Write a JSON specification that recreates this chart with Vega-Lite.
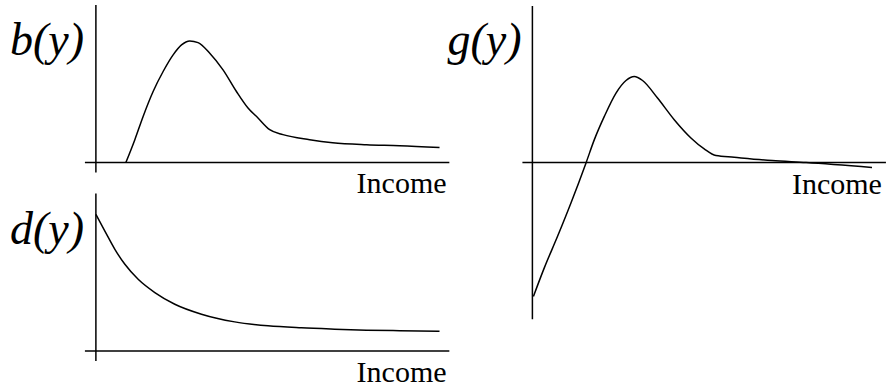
{
  "$schema": "https://vega.github.io/schema/vega-lite/v6.json",
  "padding": 0,
  "autosize": {"type": "fit", "contains": "padding"},
  "width": 887,
  "height": 388,
  "background": "white",
  "config": {"view": {"stroke": null}},
  "datasets": {
    "b": [
      {"income": 8.57, "value": 0},
      {"income": 11.14, "value": 18.85},
      {"income": 13.51, "value": 37.95},
      {"income": 16.37, "value": 58.44},
      {"income": 19.23, "value": 74.84},
      {"income": 22.09, "value": 88.52},
      {"income": 24.49, "value": 96.72},
      {"income": 26.86, "value": 100},
      {"income": 29.23, "value": 98.61},
      {"income": 32.57, "value": 89.92},
      {"income": 36.37, "value": 76.23},
      {"income": 40.2, "value": 58.44},
      {"income": 43.51, "value": 44.84},
      {"income": 46.37, "value": 36.64},
      {"income": 49.71, "value": 27.05},
      {"income": 53.51, "value": 22.95},
      {"income": 61.14, "value": 18.85},
      {"income": 67.71, "value": 16.39},
      {"income": 77.43, "value": 14.75},
      {"income": 86.86, "value": 13.93},
      {"income": 98.29, "value": 12.3}
    ],
    "d": [
      {"income": 0, "value": 112.3},
      {"income": 2.57, "value": 98.61},
      {"income": 5.43, "value": 83.61},
      {"income": 8.29, "value": 71.31},
      {"income": 12.09, "value": 59.02},
      {"income": 16.86, "value": 48.11},
      {"income": 22.57, "value": 38.52},
      {"income": 30.2, "value": 30.33},
      {"income": 39.71, "value": 24.02},
      {"income": 49.23, "value": 20.74},
      {"income": 58.77, "value": 19.1},
      {"income": 68.29, "value": 18.03},
      {"income": 77.43, "value": 17.21},
      {"income": 86.86, "value": 16.8},
      {"income": 98.29, "value": 16.39}
    ],
    "g": [
      {"income": 0.3, "value": -110},
      {"income": 3.53, "value": -86.31},
      {"income": 7.44, "value": -60.41},
      {"income": 11.38, "value": -33.03},
      {"income": 15.79, "value": -0.25},
      {"income": 18.24, "value": 18.85},
      {"income": 21.18, "value": 37.95},
      {"income": 24.62, "value": 57.13},
      {"income": 27.56, "value": 67.46},
      {"income": 30, "value": 70.74},
      {"income": 32.44, "value": 67.46},
      {"income": 36.85, "value": 53.03},
      {"income": 41.76, "value": 35.25},
      {"income": 46.68, "value": 20.25},
      {"income": 50.59, "value": 11.23},
      {"income": 54.03, "value": 5.74},
      {"income": 59.41, "value": 4.34},
      {"income": 70.59, "value": 1.64},
      {"income": 80.59, "value": 0},
      {"income": 100, "value": -4.1}
    ]
  },
  "resolve": {"scale": {"x": "independent", "y": "independent"}},
  "layer": [
    {
      "layer": [
        {
          "data": {"name": "b"},
          "mark": {"type": "line", "color": "black", "strokeWidth": 1.5, "interpolate": "monotone"},
          "encoding": {
            "x": {"field": "income", "type": "quantitative", "scale": {"domain": [-27.4286, 226], "nice": false, "zero": false}, "axis": null},
            "y": {"field": "value", "type": "quantitative", "scale": {"domain": [-184.43, 133.607], "nice": false, "zero": false}, "axis": null}
          }
        },
        {
          "data": {"values": [{}]},
          "mark": {"type": "rule", "color": "black", "strokeWidth": 1.5},
          "encoding": {"x": {"datum": 0, "type": "quantitative"}, "y": {"datum": 129.5, "type": "quantitative"}, "y2": {"datum": -8.2}}
        },
        {
          "data": {"values": [{}]},
          "mark": {"type": "rule", "color": "black", "strokeWidth": 1.5},
          "encoding": {"y": {"datum": 0, "type": "quantitative"}, "x": {"datum": -3.14, "type": "quantitative"}, "x2": {"datum": 101.1}}
        },
        {
          "data": {"values": [{}]},
          "mark": {"type": "text", "text": "b(y)", "font": "Liberation Serif", "fontStyle": "italic", "fontSize": 46, "align": "right", "baseline": "alphabetic", "color": "black"},
          "encoding": {"x": {"datum": -3.4, "type": "quantitative"}, "y": {"datum": 88.5, "type": "quantitative"}}
        },
        {
          "data": {"values": [{}]},
          "mark": {"type": "text", "text": "Income", "font": "Liberation Serif", "fontSize": 30, "align": "right", "baseline": "alphabetic", "color": "black"},
          "encoding": {"x": {"datum": 100.3, "type": "quantitative"}, "y": {"datum": -25.4, "type": "quantitative"}}
        }
      ]
    },
    {
      "layer": [
        {
          "data": {"name": "d"},
          "mark": {"type": "line", "color": "black", "strokeWidth": 1.5, "interpolate": "monotone"},
          "encoding": {
            "x": {"field": "income", "type": "quantitative", "scale": {"domain": [-27.4286, 226], "nice": false, "zero": false}, "axis": null},
            "y": {"field": "value", "type": "quantitative", "scale": {"domain": [-29.508, 288.525], "nice": false, "zero": false}, "axis": null}
          }
        },
        {
          "data": {"values": [{}]},
          "mark": {"type": "rule", "color": "black", "strokeWidth": 1.5},
          "encoding": {"x": {"datum": 0, "type": "quantitative"}, "y": {"datum": 129.5, "type": "quantitative"}, "y2": {"datum": -8.2}}
        },
        {
          "data": {"values": [{}]},
          "mark": {"type": "rule", "color": "black", "strokeWidth": 1.5},
          "encoding": {"y": {"datum": 0, "type": "quantitative"}, "x": {"datum": -3.14, "type": "quantitative"}, "x2": {"datum": 101.1}}
        },
        {
          "data": {"values": [{}]},
          "mark": {"type": "text", "text": "d(y)", "font": "Liberation Serif", "fontStyle": "italic", "fontSize": 46, "align": "right", "baseline": "alphabetic", "color": "black"},
          "encoding": {"x": {"datum": -3.4, "type": "quantitative"}, "y": {"datum": 87.7, "type": "quantitative"}}
        },
        {
          "data": {"values": [{}]},
          "mark": {"type": "text", "text": "Income", "font": "Liberation Serif", "fontSize": 30, "align": "right", "baseline": "alphabetic", "color": "black"},
          "encoding": {"x": {"datum": 100.3, "type": "quantitative"}, "y": {"datum": -25.4, "type": "quantitative"}}
        }
      ]
    },
    {
      "layer": [
        {
          "data": {"name": "g"},
          "mark": {"type": "line", "color": "black", "strokeWidth": 1.5, "interpolate": "monotone"},
          "encoding": {
            "x": {"field": "income", "type": "quantitative", "scale": {"domain": [-156.765, 104.118], "nice": false, "zero": false}, "axis": null},
            "y": {"field": "value", "type": "quantitative", "scale": {"domain": [-184.43, 133.607], "nice": false, "zero": false}, "axis": null}
          }
        },
        {
          "data": {"values": [{}]},
          "mark": {"type": "rule", "color": "black", "strokeWidth": 1.5},
          "encoding": {"x": {"datum": 0, "type": "quantitative"}, "y": {"datum": 128.7, "type": "quantitative"}, "y2": {"datum": -128.7}}
        },
        {
          "data": {"values": [{}]},
          "mark": {"type": "rule", "color": "black", "strokeWidth": 1.5},
          "encoding": {"y": {"datum": 0, "type": "quantitative"}, "x": {"datum": -2.94, "type": "quantitative"}, "x2": {"datum": 104.1}}
        },
        {
          "data": {"values": [{}]},
          "mark": {"type": "text", "text": "g(y)", "font": "Liberation Serif", "fontStyle": "italic", "fontSize": 46, "align": "right", "baseline": "alphabetic", "color": "black"},
          "encoding": {"x": {"datum": -3.2, "type": "quantitative"}, "y": {"datum": 88.5, "type": "quantitative"}}
        },
        {
          "data": {"values": [{}]},
          "mark": {"type": "text", "text": "Income", "font": "Liberation Serif", "fontSize": 30, "align": "right", "baseline": "alphabetic", "color": "black"},
          "encoding": {"x": {"datum": 102.9, "type": "quantitative"}, "y": {"datum": -26.2, "type": "quantitative"}}
        }
      ]
    }
  ]
}
